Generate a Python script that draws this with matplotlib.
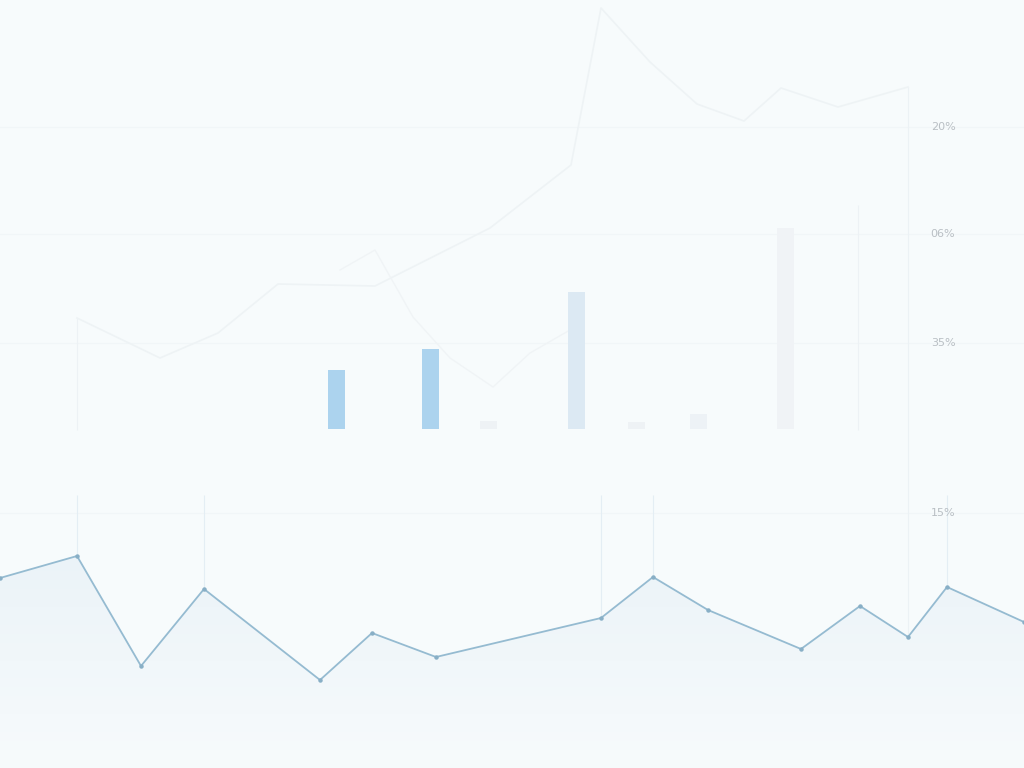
import numpy as np
import matplotlib.pyplot as plt
from matplotlib.colors import LinearSegmentedColormap

# lower series (main line with markers)
low_x = [0, 77, 141, 204, 320, 372, 436, 601, 653, 708, 801, 860, 908, 947, 1024]
low_y = [190, 212, 102, 179, 88, 135, 111, 150, 191, 158, 119, 162, 131, 181, 146]

# faint upper series
up_x = [77, 160, 218, 278, 375, 490, 571, 601, 650, 697, 744, 781, 838, 908]
up_y = [450, 410, 435, 484, 482, 540, 603, 760, 706, 664, 647, 680, 661, 681]

# second faint series
mid_x = [340, 375, 413, 450, 493, 530, 570]
mid_y = [498, 518, 451, 410, 381, 415, 438]

# bars
bar_x = [336, 430, 488, 576, 636, 698, 785]
bar_h = [59, 80, 8, 137, 7, 15, 201]
bar_c = ['#acd3ee', '#acd3ee', '#eef2f5', '#dce9f3', '#eef2f5', '#edf2f6', '#f0f3f6']
bar_base = 339

# right side labels
lab_y = [641, 534, 425, 255]
lab_t = ['20%', '06%', '35%', '15%']

bg = '#f7fbfc'
fig = plt.figure(figsize=(10.24, 7.68), dpi=100, facecolor=bg)
ax = fig.add_axes([0, 0, 1, 1])
ax.set_facecolor(bg)
ax.set_xlim(0, 1024)
ax.set_ylim(0, 768)
ax.axis('off')

# faint horizontal grid
for gy in lab_y:
    ax.axhline(gy, color='#f1f6f8', lw=0.8, zorder=0)

# faint vertical guides
ax.vlines([77, 858], [338, 338], [450, 563], color='#edf2f5', lw=0.8, zorder=1)
ax.vlines([908], [103], [681], color='#ecf2f5', lw=0.8, zorder=1)
ax.vlines([77, 204, 601, 653, 947], 138, 273, color='#e4eef4', lw=0.8, zorder=1)

ax.plot(up_x, up_y, color='#eef3f5', lw=1.2, zorder=2)
ax.plot(mid_x, mid_y, color='#f0f4f6', lw=1.0, zorder=2)

ax.bar(bar_x, bar_h, width=17, bottom=bar_base, color=bar_c, zorder=3)

# vertical gradient under the lower line
poly = ax.fill_between(low_x, low_y, 0, color='none', lw=0, zorder=2)
cmap = LinearSegmentedColormap.from_list('fade', [bg, '#ebf3f8'])
grad = np.linspace(0, 1, 256).reshape(-1, 1)
img = ax.imshow(grad, extent=[0, 1024, 0, 215], origin='lower', aspect='auto',
                cmap=cmap, zorder=2)
img.set_clip_path(poly.get_paths()[0], transform=ax.transData)
ax.set_xlim(0, 1024)
ax.set_ylim(0, 768)

ax.plot(low_x, low_y, color='#95bbd1', lw=1.3, marker='o', ms=2.2,
        mfc='#88afc6', mec='#88afc6', zorder=4)

for yy, tt in zip(lab_y, lab_t):
    ax.text(943, yy, tt, color='#b9bfc4', fontsize=8, ha='center', va='center', zorder=5)

fig.savefig('out.png', dpi=100, facecolor=bg)
